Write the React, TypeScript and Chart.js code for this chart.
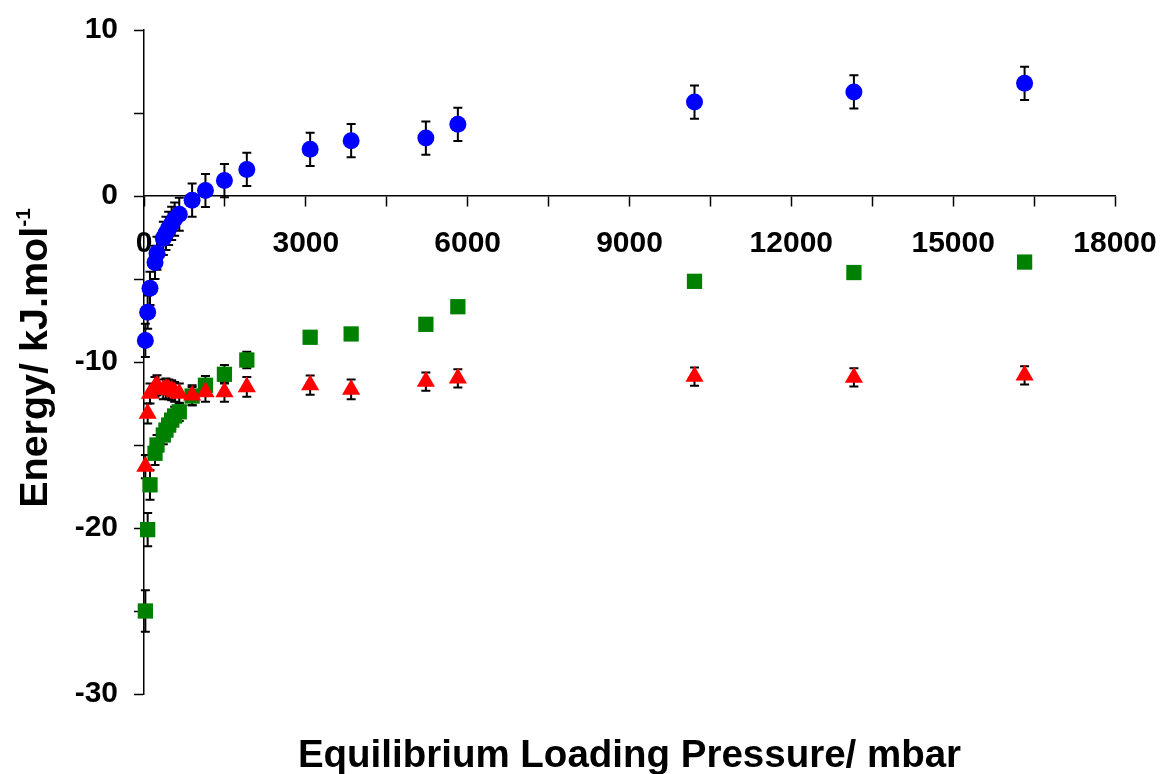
import React, { useEffect, useRef } from 'react';
import { Chart, registerables } from 'chart.js';

Chart.register(...registerables);

// Equilibrium loading pressure (mbar) shared by the three series
const pressure = [25, 68, 111, 204, 241, 358, 407, 457, 513, 568, 654, 892, 1139, 1491, 1906, 3080, 3840, 5225, 5818, 10205, 13160, 16324];

// Blue circles
const blueEnergy = [-8.7, -7.0, -5.56, -4.0, -3.45, -2.55, -2.25, -1.95, -1.65, -1.39, -1.1, -0.25, 0.33, 0.93, 1.6, 2.81, 3.33, 3.49, 4.32, 5.66, 6.27, 6.79];
const blueError = [1.0, 1.0, 1.0, 1.0, 1.0, 1.0, 1.0, 1.0, 1.0, 1.0, 1.0, 1.0, 1.0, 1.0, 1.0, 1.0, 1.0, 1.0, 1.0, 1.0, 1.0, 1.0];

// Green squares
const greenEnergy = [-25.0, -20.1, -17.4, -15.5, -15.0, -14.4, -14.1, -13.8, -13.5, -13.25, -13.0, -12.05, -11.4, -10.74, -9.88, -8.51, -8.31, -7.73, -6.67, -5.14, -4.61, -3.98];
const greenError = [1.25, 1.0, 0.9, 0.7, 0.6, 0.55, 0.55, 0.55, 0.55, 0.55, 0.55, 0.55, 0.56, 0.56, 0.5, 0.35, 0.35, 0.35, 0.35, 0.3, 0.3, 0.3];

// Red triangles
const redEnergy = [-16.3, -13.1, -11.9, -11.5, -11.4, -11.65, -11.6, -11.65, -11.7, -11.8, -11.9, -12.0, -11.8, -11.8, -11.5, -11.39, -11.65, -11.18, -10.98, -10.88, -10.93, -10.8];
const redError = [0.7, 0.6, 0.6, 0.6, 0.6, 0.6, 0.6, 0.6, 0.6, 0.6, 0.6, 0.6, 0.6, 0.6, 0.6, 0.58, 0.6, 0.55, 0.55, 0.55, 0.55, 0.55];

// Axis settings
const xMin = 0;
const xMax = 18000;
const xStep = 1500;
const xLabelEvery = 3000;
const yMin = -30;
const yMax = 10;
const yStep = 5;
const yLabelEvery = 10;

const xTitle = 'Equilibrium Loading Pressure/ mbar';
const yTitleMain = 'Energy/ kJ.mol';
const yTitleSup = '-1';

const FONT = '"Liberation Sans", Arial, sans-serif';

const errorBarPlugin = {
  id: 'errorBars',
  beforeDatasetsDraw(chart: any) {
    const ctx = chart.ctx;
    const xs = chart.scales.x;
    const ys = chart.scales.y;
    ctx.save();
    ctx.strokeStyle = '#000';
    ctx.lineWidth = 2;
    chart.data.datasets.forEach((ds: any) => {
      const errs: number[] = ds.errors || [];
      ds.data.forEach((pt: any, i: number) => {
        const e = errs[i];
        if (!e) return;
        const px = xs.getPixelForValue(pt.x);
        const top = ys.getPixelForValue(pt.y + e);
        const bot = ys.getPixelForValue(pt.y - e);
        ctx.beginPath();
        ctx.moveTo(px, top);
        ctx.lineTo(px, bot);
        ctx.moveTo(px - 4.5, top);
        ctx.lineTo(px + 4.5, top);
        ctx.moveTo(px - 4.5, bot);
        ctx.lineTo(px + 4.5, bot);
        ctx.stroke();
      });
    });
    ctx.restore();
  },
};

const titlesPlugin = {
  id: 'titles',
  afterDraw(chart: any) {
    const ctx = chart.ctx;
    const area = chart.chartArea;
    ctx.save();
    ctx.fillStyle = '#000';
    // X title
    ctx.font = `bold 38.5px ${FONT}`;
    ctx.textAlign = 'center';
    ctx.textBaseline = 'alphabetic';
    ctx.fillText(xTitle, (area.left + area.right) / 2, 767);
    // Y title with superscript
    ctx.translate(47, 358);
    ctx.rotate(-Math.PI / 2);
    ctx.font = `bold 39.5px ${FONT}`;
    const wMain = ctx.measureText(yTitleMain).width;
    ctx.font = `bold 21px ${FONT}`;
    const wSup = ctx.measureText(yTitleSup).width;
    const total = wMain + wSup;
    ctx.textAlign = 'left';
    ctx.font = `bold 39.5px ${FONT}`;
    ctx.fillText(yTitleMain, -total / 2, 0);
    ctx.font = `bold 21px ${FONT}`;
    ctx.fillText(yTitleSup, -total / 2 + wMain, -17);
    ctx.restore();
  },
};

export default function App() {
  const ref = useRef<HTMLCanvasElement>(null);

  useEffect(() => {
    if (!ref.current) return;
    const mk = (ys: number[]) => pressure.map((x, i) => ({ x, y: ys[i] }));
    const chart = new Chart(ref.current, {
      type: 'scatter',
      data: {
        datasets: [
          {
            label: 'blue',
            data: mk(blueEnergy),
            errors: blueError,
            pointStyle: 'circle',
            pointRadius: 8.5,
            pointHoverRadius: 8.5,
            backgroundColor: '#0000FF',
            borderColor: '#0000FF',
            borderWidth: 0,
            clip: false,
          } as any,
          {
            label: 'red',
            data: mk(redEnergy),
            errors: redError,
            pointStyle: 'triangle',
            pointRadius: 10.5,
            pointHoverRadius: 10.5,
            backgroundColor: '#FF0000',
            borderColor: '#FF0000',
            borderWidth: 0,
            clip: false,
          } as any,
          {
            label: 'green',
            data: mk(greenEnergy),
            errors: greenError,
            pointStyle: 'rect',
            pointRadius: 10.8,
            pointHoverRadius: 10.8,
            backgroundColor: '#008000',
            borderColor: '#008000',
            borderWidth: 0,
            clip: false,
          } as any,
        ],
      },
      options: {
        animation: false,
        responsive: false,
        maintainAspectRatio: false,
        events: [],
        layout: { padding: { left: 0, top: 30, right: 47, bottom: 80 } },
        plugins: {
          legend: { display: false },
          tooltip: { enabled: false },
          title: { display: false },
        },
        scales: {
          x: {
            type: 'linear',
            position: { y: 0 } as any,
            min: xMin,
            max: xMax,
            afterFit: (s: any) => {
              s.paddingLeft = 0;
              s.paddingRight = 0;
            },
            border: { display: true, color: '#000', width: 1.5 },
            grid: { display: true, drawOnChartArea: false, drawTicks: true, tickLength: 10, tickColor: '#000', tickWidth: 1.5 },
            ticks: {
              stepSize: xStep,
              autoSkip: false,
              maxRotation: 0,
              padding: 20,
              color: '#000',
              font: { family: FONT, size: 30, weight: 'bold' },
              callback: (v: any) => (Number(v) % xLabelEvery === 0 ? String(v) : ''),
            },
          },
          y: {
            type: 'linear',
            position: 'left',
            min: yMin,
            max: yMax,
            afterFit: (s: any) => {
              s.width = 144;
              s.paddingTop = 0;
              s.paddingBottom = 0;
            },
            border: { display: true, color: '#000', width: 1.5 },
            grid: { display: true, drawOnChartArea: false, drawTicks: true, tickLength: 10, tickColor: '#000', tickWidth: 1.5 },
            ticks: {
              stepSize: yStep,
              autoSkip: false,
              padding: 16,
              color: '#000',
              font: { family: FONT, size: 30, weight: 'bold' },
              callback: (v: any) => (Number(v) % yLabelEvery === 0 ? String(v) : ''),
            },
          },
        },
      },
      plugins: [errorBarPlugin, titlesPlugin],
    });
    return () => chart.destroy();
  }, []);

  return (
    <div style={{ position: 'absolute', left: 0, top: 0, width: 1162, height: 774, background: '#fff' }}>
      <canvas ref={ref} width={1162} height={774} />
    </div>
  );
}
